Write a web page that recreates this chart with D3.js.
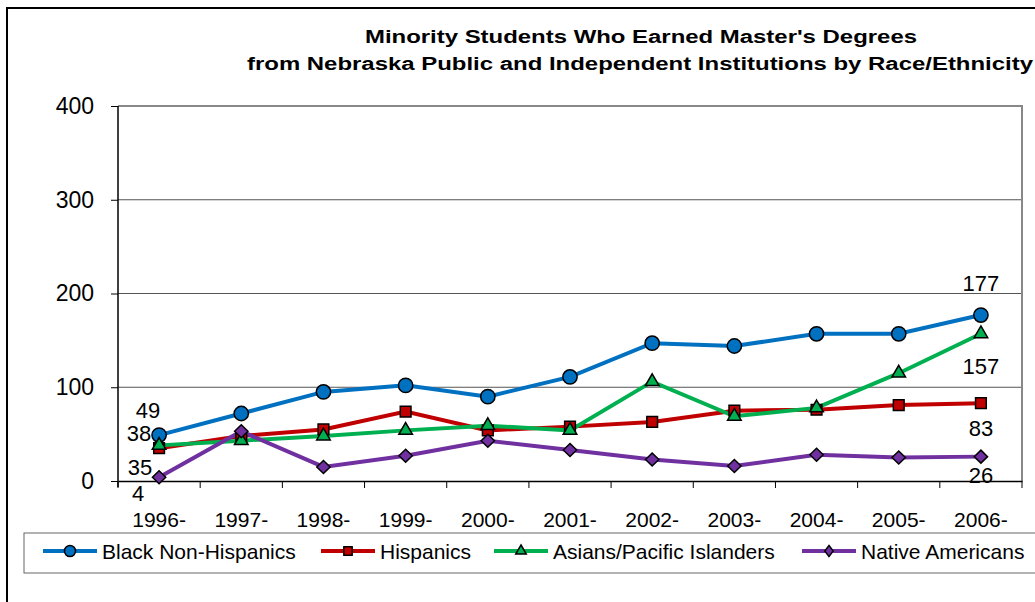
<!DOCTYPE html>
<meta charset="utf-8">
<style>
body { margin: 0; background: #fff; }
text { font-family: "Liberation Sans", Arial, sans-serif; }
.line { fill: none; stroke-width: 4px; }
</style>
<body>
<script src="https://d3js.org/d3.v7.min.js"></script>
<script>

// data
var years = ["1996-", "1997-", "1998-", "1999-", "2000-", "2001-", "2002-", "2003-", "2004-", "2005-", "2006-"];
var black = [49, 72, 95, 102, 90, 111, 147, 144, 157, 157, 177];
var hispanic = [35, 48, 55, 74, 54, 58, 63, 75, 76, 81, 83];
var asian = [38, 43, 48, 54, 59, 54, 106, 69, 78, 115, 157];
var native = [4, 53, 15, 27, 43, 33, 23, 16, 28, 25, 26];
var yTicks = [0, 100, 200, 300, 400];

var series = [
  {name: "Black Non-Hispanics", values: black, color: "#0070C0", shape: "circle"},
  {name: "Hispanics", values: hispanic, color: "#C00000", shape: "square"},
  {name: "Asians/Pacific Islanders", values: asian, color: "#00B050", shape: "triangle"},
  {name: "Native Americans", values: native, color: "#7030A0", shape: "diamond"}
];

// labels at first and last points: [series index, point index, dx, dy]
var labels = [
  [0, 0, -11, -25], [2, 0, -20, -12], [1, 0, -19, 19], [3, 0, -21, 16],
  [0, 10, 0, -32], [2, 10, 0, 32], [1, 10, 0, 25], [3, 10, 0, 18]
];

var width = 1035, height = 602;
var margin = {top: 106, left: 118, right: 1022, bottom: 481};

var svg = d3.select("body").append("svg")
  .attr("width", width)
  .attr("height", height);

// outer frame
svg.append("rect")
  .attr("x", 7).attr("y", 8).attr("width", 1100).attr("height", 700)
  .attr("fill", "none").attr("stroke", "#000").attr("stroke-width", 2);

// title (source font is horizontally stretched)
svg.append("text").attr("x", 365).attr("y", 43)
  .style("font-size", "18px").style("font-weight", "bold")
  .attr("textLength", 552).attr("lengthAdjust", "spacingAndGlyphs")
  .text("Minority Students Who Earned Master's Degrees");
svg.append("text").attr("x", 247).attr("y", 70)
  .style("font-size", "18px").style("font-weight", "bold")
  .attr("textLength", 786).attr("lengthAdjust", "spacingAndGlyphs")
  .text("from Nebraska Public and Independent Institutions by Race/Ethnicity");

var x = d3.scaleBand().domain(years).range([margin.left, margin.right]);
var y = d3.scaleLinear().domain([0, 400]).range([margin.bottom, margin.top]);

// gridlines
svg.append("g").selectAll("line")
  .data(yTicks.slice(1, 4))
  .enter().append("line")
  .attr("x1", margin.left).attr("x2", margin.right)
  .attr("y1", function(d) { return y(d); }).attr("y2", function(d) { return y(d); })
  .attr("stroke", "#555").attr("stroke-width", 1);

// plot border top/right
svg.append("path")
  .attr("d", "M" + margin.left + "," + y(400) + "H" + margin.right + "V" + margin.bottom)
  .attr("fill", "none").attr("stroke", "#888").attr("stroke-width", 2);

// y axis
var yAxis = svg.append("g")
  .attr("transform", "translate(" + margin.left + ",0)")
  .call(d3.axisLeft(y).tickValues(yTicks).tickSize(7).tickPadding(17));
yAxis.selectAll("text").style("font-size", "23px").attr("fill", "#000");
yAxis.selectAll("line, path").attr("stroke", "#000");
yAxis.select(".domain").attr("d", "M0," + (margin.bottom + 6) + "V" + margin.top).attr("stroke-width", 1.5);

// x axis ticks at category boundaries
var xAxis = svg.append("g")
  .attr("transform", "translate(0," + margin.bottom + ")")
  .call(d3.axisBottom(x).tickSize(0));
xAxis.selectAll("text").style("font-size", "21px").attr("fill", "#000")
  .attr("y", 46).attr("dy", null);
xAxis.select(".domain").attr("stroke", "#000").attr("stroke-width", 1.5);
svg.append("g").selectAll("line")
  .data(years.concat(["end"]))
  .enter().append("line")
  .attr("x1", function(d, i) { return margin.left + i * x.step(); })
  .attr("x2", function(d, i) { return margin.left + i * x.step(); })
  .attr("y1", margin.bottom).attr("y2", margin.bottom + 7)
  .attr("stroke", "#000");

function markerPath(shape, size) {
  var sym = {circle: d3.symbolCircle, square: d3.symbolSquare,
             triangle: d3.symbolTriangle, diamond: d3.symbolDiamond}[shape];
  return d3.symbol().type(sym).size(size)();
}
var markerSize = {circle: 160, square: 115, triangle: 80, diamond: 60};

var line = d3.line()
  .x(function(d, i) { return x(years[i]) + x.bandwidth() / 2; })
  .y(function(d) { return y(d); });

series.forEach(function(s) {
  svg.append("path")
    .datum(s.values)
    .attr("class", "line")
    .attr("stroke", s.color)
    .attr("d", line);
});
series.forEach(function(s) {
  svg.append("g").selectAll("path")
    .data(s.values)
    .enter().append("path")
    .attr("transform", function(d, i) {
      return "translate(" + (x(years[i]) + x.bandwidth() / 2) + "," + y(d) + ")" +
        (s.shape == "diamond" ? "scale(1.6,0.9)" : "");
    })
    .attr("d", markerPath(s.shape, markerSize[s.shape]))
    .attr("fill", s.color)
    .attr("stroke", "#000").attr("stroke-width", 1.5)
    .attr("vector-effect", "non-scaling-stroke");
});

// data labels
svg.append("g").selectAll("text")
  .data(labels)
  .enter().append("text")
  .attr("x", function(d) { return x(years[d[1]]) + x.bandwidth() / 2 + d[2]; })
  .attr("y", function(d) { return y(series[d[0]].values[d[1]]) + d[3]; })
  .attr("text-anchor", "middle")
  .attr("dy", "0.36em")
  .style("font-size", "22px")
  .text(function(d) { return series[d[0]].values[d[1]]; });

// legend
svg.append("rect")
  .attr("x", 24).attr("y", 533).attr("width", 1100).attr("height", 40)
  .attr("fill", "none").attr("stroke", "#666").attr("stroke-width", 1);

var legendX = [43, 321, 494, 802];
var leg = svg.append("g").selectAll("g")
  .data(series)
  .enter().append("g")
  .attr("transform", function(d, i) { return "translate(" + legendX[i] + ",551)"; });
leg.append("line")
  .attr("x1", 0).attr("x2", 54)
  .attr("stroke", function(d) { return d.color; })
  .attr("stroke-width", 4);
leg.append("path")
  .attr("transform", function(d) { return "translate(27,0)" + (d.shape == "diamond" ? "scale(1.3,1)" : ""); })
  .attr("d", function(d) { return markerPath(d.shape, markerSize[d.shape] * 0.6); })
  .attr("fill", function(d) { return d.color; })
  .attr("stroke", "#000").attr("stroke-width", 1.5)
  .attr("vector-effect", "non-scaling-stroke");
leg.append("text")
  .attr("x", 59).attr("y", 7.5)
  .style("font-size", "21px")
  .text(function(d) { return d.name; });

</script>
</body>
